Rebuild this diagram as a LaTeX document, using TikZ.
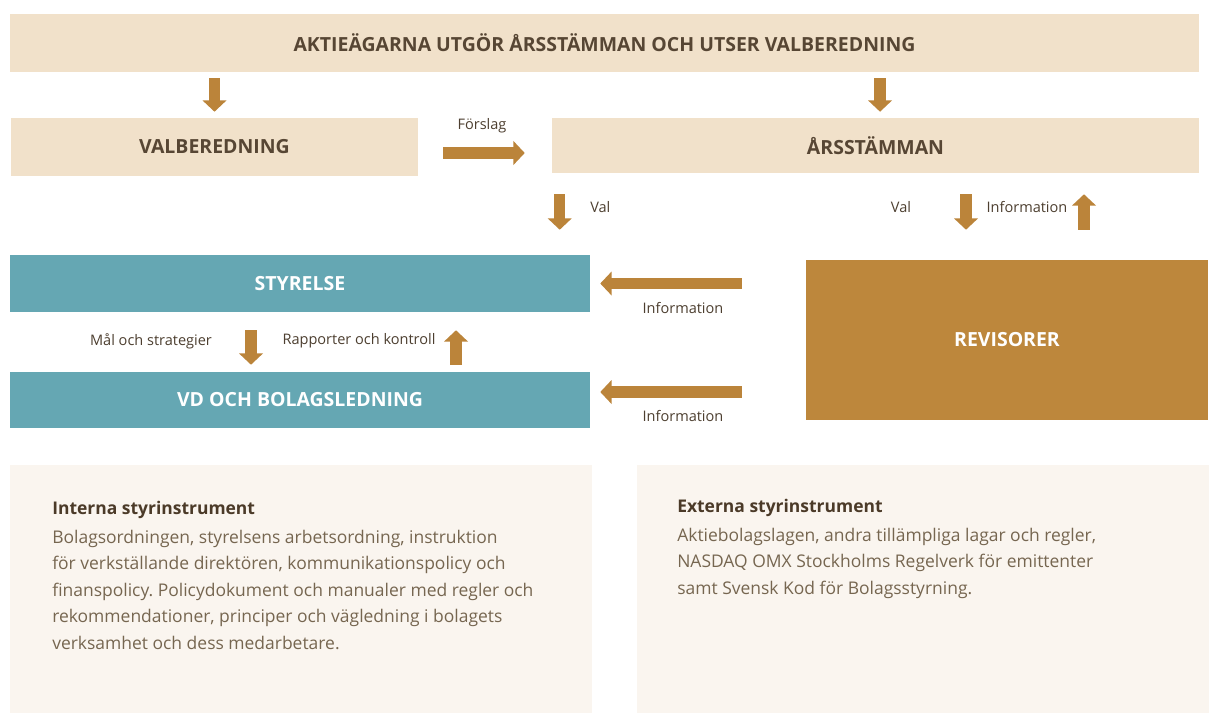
\documentclass[tikz,border=0pt]{standalone}
\usepackage{fontspec}
\setmainfont{Open Sans}
\usetikzlibrary{arrows.meta}
\definecolor{bannerbeige}{HTML}{F1E1CA}
\definecolor{titlebrown}{HTML}{574634}
\definecolor{boardteal}{HTML}{65A7B3}
\definecolor{auditgold}{HTML}{BD873C}
\definecolor{arrowgold}{HTML}{BB843A}
\definecolor{labelbrown}{HTML}{4D3F30}
\definecolor{panelcream}{HTML}{FAF5EF}
\definecolor{headbrown}{HTML}{4B3A28}
\definecolor{bodybrown}{HTML}{766650}
\frenchspacing
\begin{document}
\begin{tikzpicture}
  [x=0.75pt,y=-0.75pt,every node/.style={inner sep=0},
   titlebox/.style={rectangle,font=\bfseries\fontsize{14.6}{16}\selectfont},
   beigebox/.style={titlebox,fill=bannerbeige,text=titlebrown},
   tealbox/.style={titlebox,fill=boardteal,text=white},
   goldbox/.style={titlebox,fill=auditgold,text=white},
   panel/.style={rectangle,fill=panelcream},
   bodytxt/.style={anchor=north west,align=left,text=bodybrown,
     font=\fontsize{13.1}{19.9}\selectfont},
   lbl/.style={font=\fontsize{10.9}{12}\selectfont,text=labelbrown},
   bigarrow/.style={draw=arrowgold,line width=8.5pt,
     -{Triangle[length=8.5pt,width=17.5pt]}}]
  \useasboundingbox (0,0) rectangle (1209,713);
  \fill[white] (0,0) rectangle (1209,713);
  % boxes
  \node[beigebox,minimum width=891.75pt,minimum height=43.5pt] (aktie) at (604.5,43)
    {AKTIEÄGARNA UTGÖR ÅRSSTÄMMAN OCH UTSER VALBEREDNING};
  \node[beigebox,minimum width=305.25pt,minimum height=43.5pt] (valb) at (214.5,147) {VALBEREDNING};
  \node[beigebox,minimum width=485.25pt,minimum height=41.25pt] (arsst) at (875.5,145.5) {ÅRSSTÄMMAN};
  \node[tealbox,minimum width=435pt,minimum height=42.75pt] (styrelse) at (300,283.5) {STYRELSE};
  \node[tealbox,minimum width=435pt,minimum height=42pt] (vd) at (300,400) {VD OCH BOLAGSLEDNING};
  \node[goldbox,minimum width=301.5pt,minimum height=120pt] (revisorer) at (1007,340) {REVISORER};
  \node[panel,minimum width=436.5pt,minimum height=186pt] (intpanel) at (301,589) {};
  \node[panel,minimum width=429pt,minimum height=186pt] (extpanel) at (923,589) {};
  % labels
  \node[lbl] (forslag) at (482,126) {Förslag};
  \node[lbl,anchor=west] (valA) at (590,207) {Val};
  \node[lbl] (valB) at (901,207) {Val};
  \node[lbl] (infoA) at (1027,207) {Information};
  \node[lbl] (infoB) at (683,308) {Information};
  \node[lbl] (infoC) at (683,416) {Information};
  \node[lbl] (mal) at (151,341) {Mål och strategier};
  \node[lbl] (rapp) at (359,341) {Rapporter och kontroll};
  % arrows
  \draw[bigarrow,shorten <=4.5pt,shorten >=4.5pt] (aktie.south -| valb.north) -- (valb.north);
  \draw[bigarrow,shorten <=4.5pt,shorten >=4.5pt] ([xshift=3.4pt]arsst.north |- aktie.south) -- ([xshift=3.4pt]arsst.north);
  \draw[bigarrow,shorten <=18.75pt,shorten >=20.25pt] ([yshift=-4.5pt]valb.east) -- ([yshift=-4.5pt]valb.east -| arsst.west);
  \draw[bigarrow,shorten <=15.75pt,shorten >=18.75pt] ([xshift=6pt]arsst.south west) -- ([xshift=6pt]arsst.south west |- styrelse.north);
  \draw[bigarrow,shorten <=15.75pt,shorten >=22.5pt] ([xshift=-30.75pt]revisorer.north |- arsst.south) -- ([xshift=-30.75pt]revisorer.north);
  \draw[bigarrow,shorten <=22.5pt,shorten >=15.75pt] ([xshift=57.75pt]revisorer.north) -- ([xshift=57.75pt]revisorer.north |- arsst.south);
  \draw[bigarrow,shorten <=48pt,shorten >=7.5pt] (revisorer.west |- styrelse.east) -- (styrelse.east);
  \draw[bigarrow,shorten <=48pt,shorten >=7.5pt] ([yshift=6pt]revisorer.west |- vd.east) -- ([yshift=6pt]vd.east);
  \draw[bigarrow,shorten <=13.5pt,shorten >=5.25pt] ([xshift=-36.75pt]styrelse.south) -- ([xshift=-36.75pt]styrelse.south |- vd.north);
  \draw[bigarrow,shorten <=5.25pt,shorten >=13.5pt] ([xshift=117pt]vd.north) -- ([xshift=117pt]vd.north |- styrelse.south);
  % panel texts
  \node[bodytxt] (inttext) at (52,501)
    {{\bfseries\color{headbrown}Interna styrinstrument}\\[1.5pt]
     Bolagsordningen, styrelsens arbetsordning, instruktion\\
     för verkställande direktören, kommunikationspolicy och\\
     finanspolicy. Policydokument och manualer med regler och\\
     rekommendationer, principer och vägledning i bolagets\\
     verksamhet och dess medarbetare.};
  \node[bodytxt] (exttext) at (677,499)
    {{\bfseries\color{headbrown}Externa styrinstrument}\\[1.5pt]
     Aktiebolagslagen, andra tillämpliga lagar och regler,\\
     NASDAQ OMX Stockholms Regelverk för emittenter\\
     samt Svensk Kod för Bolagsstyrning.};
\end{tikzpicture}
\end{document}
